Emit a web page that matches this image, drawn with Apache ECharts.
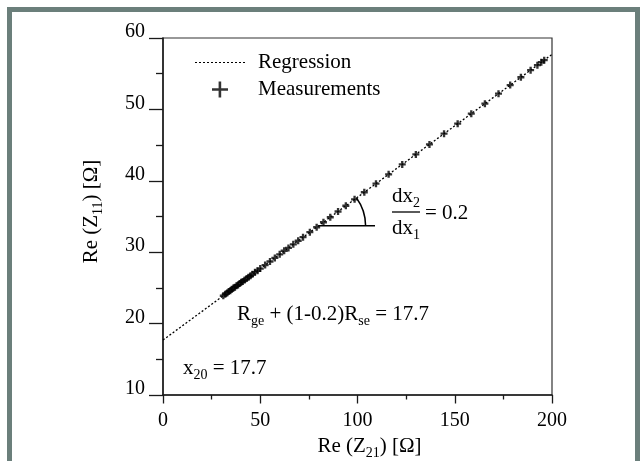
<!DOCTYPE html>
<html><head><meta charset="utf-8">
<script src="https://cdn.jsdelivr.net/npm/echarts@6/dist/echarts.min.js"></script>
<style>html,body{margin:0;padding:0;background:#fff}#c{width:641px;height:461px}</style>
</head><body><div id="c"></div>
<script>
// Measurements (Re Z21, Re Z11)
const measX = [31, 32, 33, 33.8, 34.6, 35.4, 36.2, 37, 37.8, 38.6, 39.4, 40.2, 41, 42, 43, 44, 45, 46, 47.3, 48.6,
  50, 52.5, 55, 57.5, 60, 62.3, 64.5, 67, 69.5, 72, 75.5, 79, 82.5, 86, 90, 94, 98.5, 103.5, 109.5, 116,
  123, 130, 137, 144.5, 151.5, 158.5, 165.5, 172.5, 178.5, 184, 189, 192.5, 194.5, 196];
const measY = [23.9, 24.1, 24.3, 24.5, 24.6, 24.8, 25.0, 25.1, 25.3, 25.4, 25.6, 25.8, 25.9, 26.1, 26.3, 26.5, 26.7, 26.9, 27.2, 27.4,
  27.7, 28.2, 28.7, 29.2, 29.7, 30.2, 30.6, 31.1, 31.6, 32.1, 32.8, 33.5, 34.2, 34.9, 35.7, 36.5, 37.4, 38.4, 39.6, 40.9,
  42.3, 43.7, 45.1, 46.6, 48.0, 49.4, 50.8, 52.2, 53.4, 54.5, 55.5, 56.2, 56.6, 56.9];
// Regression line end points
const regX = [0, 200];
const regY = [17.7, 57.7];
// Slope-angle marker: horizontal leg from angleX[0] to angleX[1] at angleY
const angleX = [80, 109];
const angleY = 33.7;
// Axis ticks
const xTickValues = [0, 50, 100, 150, 200];
const yTickValues = [10, 20, 30, 40, 50, 60];

const FONT = '"Liberation Serif", "Times New Roman", serif';
const BAND = '#6b7f7b';
const rich = {
  n: { fontSize: 21, fontFamily: FONT, color: '#000' },
  s: { fontSize: 14, fontFamily: FONT, color: '#000', padding: [14, 0, 0, 0] }
};

const chart = echarts.init(document.getElementById('c'), null, { renderer: 'canvas' });
const option = {
  backgroundColor: '#fff',
  animation: false,
  grid: { left: 163, right: 89, top: 38, bottom: 66, containLabel: false, outerBoundsMode: 'none', show: true, borderColor: '#333', borderWidth: 1.2, backgroundColor: 'transparent' },
  xAxis: {
    type: 'value', min: xTickValues[0], max: xTickValues[xTickValues.length - 1], interval: xTickValues[1] - xTickValues[0],
    name: '{n|Re (Z}{s|21}{n|) [Ω]}', nameLocation: 'middle', nameGap: 35,
    nameTextStyle: { rich: rich, padding: [0, 0, 0, 24] },
    axisLine: { lineStyle: { color: '#1a1a1a', width: 1.5 } },
    axisTick: { show: true, inside: false, length: 8.5, lineStyle: { color: '#1a1a1a', width: 1.3 } },
    minorTick: { show: true, splitNumber: 2, length: 4.5, lineStyle: { color: '#1a1a1a', width: 1.3 } },
    splitLine: { show: false }, minorSplitLine: { show: false },
    axisLabel: { color: '#000', fontSize: 20, fontFamily: FONT, margin: 16 }
  },
  yAxis: {
    type: 'value', min: yTickValues[0], max: yTickValues[yTickValues.length - 1], interval: yTickValues[1] - yTickValues[0],
    name: '{n|Re (Z}{s|11}{n|) [Ω]}', nameLocation: 'middle', nameGap: 58, nameRotate: 90,
    nameTextStyle: { rich: rich, padding: [0, 0, 0, 10] },
    axisLine: { lineStyle: { color: '#1a1a1a', width: 1.5 } },
    axisTick: { show: true, inside: false, length: 14, lineStyle: { color: '#1a1a1a', width: 1.3 } },
    minorTick: { show: true, splitNumber: 2, length: 7, lineStyle: { color: '#1a1a1a', width: 1.3 } },
    splitLine: { show: false }, minorSplitLine: { show: false },
    axisLabel: { color: '#000', fontSize: 20, fontFamily: FONT, margin: 18, verticalAlign: 'bottom', lineHeight: 12 }
  },
  legend: {
    orient: 'vertical', left: 195, top: 52, padding: 0, itemWidth: 50, itemHeight: 16, itemGap: 6,
    selectedMode: false,
    textStyle: { color: '#000', fontSize: 21, fontFamily: FONT, padding: [0, 0, 0, 8] },
    data: [
      { name: 'Regression', icon: 'path://M0,0h2v1.2h-2z M4,0h2v1.2h-2z M8,0h2v1.2h-2z M12,0h2v1.2h-2z M16,0h2v1.2h-2z M20,0h2v1.2h-2z M24,0h2v1.2h-2z M28,0h2v1.2h-2z M32,0h2v1.2h-2z M36,0h2v1.2h-2z M40,0h2v1.2h-2z M44,0h2v1.2h-2z M48,0h2v1.2h-2z' },
      { name: 'Measurements', icon: 'path://M6.6,0h2.6v16h-2.6z M0,6.7h16v2.6h-16z' }
    ]
  },
  series: [
    {
      name: 'Regression', type: 'line', data: regX.map((x, i) => [x, regY[i]]),
      symbol: 'none', lineStyle: { color: '#000', width: 1.3, type: [2, 2] }, itemStyle: { color: '#000' }, z: 2
    },
    {
      name: 'Measurements', type: 'scatter', data: measX.map((x, i) => [x, measY[i]]),
      symbol: 'path://M2,0H4V2H6V4H4V6H2V4H0V2H2Z', symbolSize: 7,
      itemStyle: { color: '#000' }, z: 3
    },
    {
      name: 'angle', type: 'custom', data: [[angleX[0], angleY, angleX[1]]],
      encode: { x: [0, 2], y: 1 }, silent: true, z: 4,
      renderItem: function (params, api) {
        const o = api.coord([api.value(0), api.value(1)]);
        const e = api.coord([api.value(2), api.value(1)]);
        const p0 = api.coord([regX[0], regY[0]]);
        const p1 = api.coord([regX[1], regY[1]]);
        const th = Math.atan2(p0[1] - p1[1], p1[0] - p0[0]);
        return {
          type: 'group', children: [
            { type: 'line', shape: { x1: o[0], y1: o[1], x2: e[0], y2: e[1] }, style: { stroke: '#000', lineWidth: 1.5 } },
            { type: 'arc', shape: { cx: o[0], cy: o[1], r: 47, startAngle: -th, endAngle: 0, clockwise: true }, style: { stroke: '#000', lineWidth: 1.5, fill: null } }
          ]
        };
      }
    }
  ],
  graphic: [
    { type: 'rect', shape: { x: 7, y: 7, width: 5, height: 454 }, style: { fill: BAND }, silent: true },
    { type: 'rect', shape: { x: 7, y: 7, width: 633, height: 5 }, style: { fill: BAND }, silent: true },
    { type: 'rect', shape: { x: 635, y: 7, width: 5, height: 454 }, style: { fill: BAND }, silent: true },
    { type: 'text', x: 237, y: 314, style: { text: '{n|R}{s|ge}{n| + (1-0.2)R}{s|se}{n| = 17.7}', rich: rich, align: 'left', verticalAlign: 'middle' } },
    { type: 'text', x: 183, y: 368, style: { text: '{n|x}{s|20}{n| = 17.7}', rich: rich, align: 'left', verticalAlign: 'middle' } },
    { type: 'text', x: 406, y: 196, style: { text: '{n|dx}{s|2}', rich: rich, align: 'center', verticalAlign: 'middle' } },
    { type: 'line', shape: { x1: 392, y1: 212, x2: 420, y2: 212 }, style: { stroke: '#000', lineWidth: 1.3 } },
    { type: 'text', x: 406, y: 228, style: { text: '{n|dx}{s|1}', rich: rich, align: 'center', verticalAlign: 'middle' } },
    { type: 'text', x: 425, y: 213, style: { text: '= 0.2', font: '21px ' + FONT, fill: '#000', align: 'left', verticalAlign: 'middle' } }
  ]
};
chart.setOption(option);
</script>
</body></html>
